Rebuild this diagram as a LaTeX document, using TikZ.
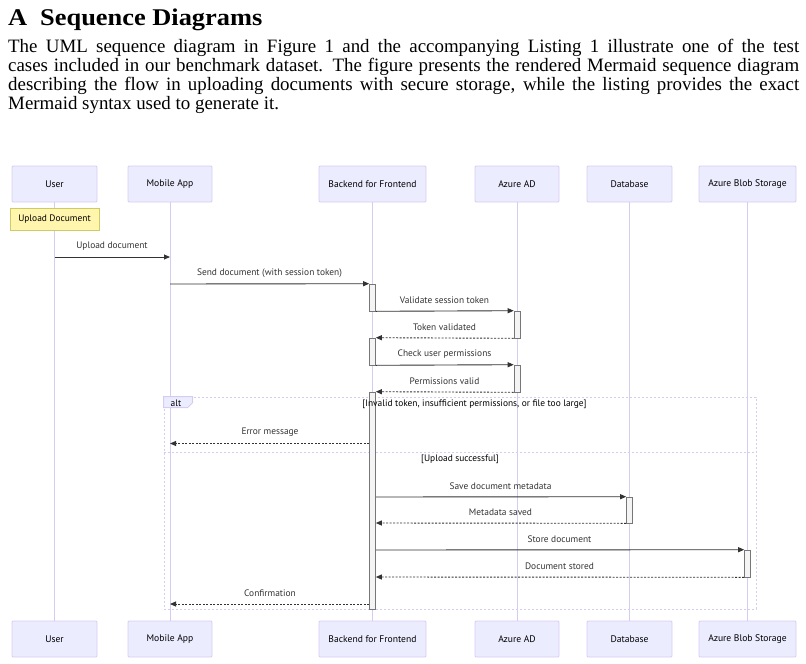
\documentclass[tikz,border=0pt]{standalone}
\usepackage{fontspec}
\setmainfont{Liberation Serif}
\newfontfamily\headfont[FakeStretch=1.1]{Liberation Serif}
\newfontfamily\diag{PT Sans}
\usetikzlibrary{arrows.meta}
\definecolor{actfill}{HTML}{ECECFF}
\definecolor{actline}{HTML}{D6CCF2}
\definecolor{msgcol}{HTML}{333333}
\definecolor{barfill}{HTML}{F4F4F4}
\definecolor{barline}{HTML}{777777}
\definecolor{notefill}{HTML}{FFF5AD}
\definecolor{noteline}{HTML}{CCCC66}
\tikzset{
  dfont/.style={font=\diag\fontsize{9.4}{11}\selectfont},
  actor/.style={font=\diag\fontsize{9.6}{11}\selectfont, draw=actline, fill=actfill, minimum height=36pt, inner sep=0pt, rounded corners=1pt, line width=0.8pt},
  life/.style={draw=actline, line width=0.9pt},
  actbar/.style={draw=barline, fill=barfill, minimum width=6pt, inner sep=0pt, line width=0.6pt},
  msg/.style={draw=msgcol, line width=0.9pt, -{Triangle[length=6pt,width=5pt]}},
  reply/.style={msg, dash pattern=on 2pt off 1.5pt},
  lbl/.style={dfont, text=msgcol, inner sep=0pt},
  altbox/.style={draw=actline, dash pattern=on 2pt off 2pt, line width=0.8pt, inner sep=0pt},
  altlbl/.style={draw=actline, fill=actfill, line width=0.8pt},
  cond/.style={dfont, text=black, inner sep=0pt},
  notebox/.style={dfont, draw=noteline, fill=notefill, line width=0.7pt, inner sep=0pt},
  para/.style={anchor=base west, inner sep=0pt, font=\fontsize{18.9}{19}\selectfont},
  head/.style={anchor=base west, inner sep=0pt, font=\headfont\bfseries\fontsize{24}{28}\selectfont}
}
\begin{document}
\begin{tikzpicture}[x=1pt,y=-1pt]
\useasboundingbox (0,0) rectangle (806,664);
% heading
\node[head] (hA) at (8,25) {A};
\node[head] (hT) at (40,25) {Sequence Diagrams};
% paragraph
\node[para] (p1) at (8,52) {\makebox[791pt][s]{The UML sequence diagram in Figure 1 and the accompanying Listing 1 illustrate one of the test}};
\node[para] (p2) at (8,71) {\makebox[791pt][s]{cases included in our benchmark dataset. The figure presents the rendered Mermaid sequence diagram}};
\node[para] (p3) at (8,90) {\makebox[791pt][s]{describing the flow in uploading documents with secure storage, while the listing provides the exact}};
\node[para] (p4) at (8,109) {Mermaid syntax used to generate it.};
% actors top
\node[actor, minimum width=85pt] (uT) at (54.5,184) {User};
\node[actor, minimum width=84pt] (mT) at (170,184) {Mobile App};
\node[actor, minimum width=107pt] (bT) at (372.5,184) {Backend for Frontend};
\node[actor, minimum width=84pt] (zT) at (517,184) {Azure AD};
\node[actor, minimum width=85pt] (dT) at (629.5,184) {Database};
\node[actor, minimum width=97pt] (sT) at (747.5,184) {Azure Blob Storage};
% actors bottom
\node[actor, minimum width=85pt] (uB) at (54.5,639) {User};
\node[actor, minimum width=84pt] (mB) at (170,639) {Mobile App};
\node[actor, minimum width=107pt] (bB) at (372.5,639) {Backend for Frontend};
\node[actor, minimum width=84pt] (zB) at (517,639) {Azure AD};
\node[actor, minimum width=85pt] (dB) at (629.5,639) {Database};
\node[actor, minimum width=97pt] (sB) at (747.5,639) {Azure Blob Storage};
% lifelines
\draw[life] (uT.south) -- (uB.north);
\draw[life] (mT.south) -- (mB.north);
\draw[life] (bT.south) -- (bB.north);
\draw[life] (zT.south) -- (zB.north);
\draw[life] (dT.south) -- (dB.north);
\draw[life] (sT.south) -- (sB.north);
% note
\node[notebox, minimum width=89pt, minimum height=22pt] (nt) at (54.5,219) {Upload Document};
% alt frame
\node[altbox, minimum width=592pt, minimum height=212pt] (alt) at (460,503) {};
\coordinate (dv) at (0,452);
\draw[altbox] (alt.west |- dv) -- (alt.east |- dv);
\draw[altlbl] (alt.north west) -- ++(29,0) -- ++(0,6) -- ++(-5,5) -- ++(-24,0) -- cycle;
\node[cond] (altT) at (176,403) {alt};
% activation bars
\node[actbar, minimum height=27pt] (a1) at (372.5,297.5) {};
\node[actbar, minimum height=27pt] (a2) at (372.5,351.5) {};
\node[actbar, minimum height=217pt] (a3) at (372.5,500.5) {};
\node[actbar, minimum height=27pt] (z1) at (517,324.5) {};
\node[actbar, minimum height=27pt] (z2) at (517,378.5) {};
\node[actbar, minimum height=26pt] (d1) at (629.5,510) {};
\node[actbar, minimum height=27pt] (s1) at (747.5,563.5) {};
% conditions (on top of bars)
\node[cond] (c1) at (474.5,404) {[Invalid token, insufficient permissions, or file too large]};
\node[cond] (c2) at (460,459.5) {[Upload successful]};
% message rows
\coordinate (y1) at (0,257);
\coordinate (y2) at (0,284);
\coordinate (y7) at (0,443.5);
\coordinate (y8) at (0,497);
\coordinate (y9) at (0,523);
\coordinate (y10) at (0,550);
\coordinate (y11) at (0,577);
\coordinate (y12) at (0,604);
% messages
\draw[msg] (uT |- y1) -- (mT |- y1);
\node[lbl] (l1) at (112,246) {Upload document};
\draw[msg] (mT |- y2) -- (a1.north west);
\node[lbl] (l2) at (269.5,273) {Send document (with session token)};
\draw[msg] (a1.south east) -- (z1.north west);
\node[lbl] (l3) at (444.5,300) {Validate session token};
\draw[reply] (z1.south west) -- (a2.north east);
\node[lbl] (l4) at (444.5,327) {Token validated};
\draw[msg] (a2.south east) -- (z2.north west);
\node[lbl] (l5) at (444.5,354) {Check user permissions};
\draw[reply] (z2.south west) -- (a3.north east);
\node[lbl] (l6) at (444.5,381) {Permissions valid};
\draw[reply] (a3.west |- y7) -- (mT |- y7);
\node[lbl] (l7) at (270,432.5) {Error message};
\draw[msg] (a3.east |- y8) -- (d1.north west);
\node[lbl] (l8) at (500.5,486) {Save document metadata};
\draw[reply] (d1.south west) -- (a3.east |- y9);
\node[lbl] (l9) at (500.5,512) {Metadata saved};
\draw[msg] (a3.east |- y10) -- (s1.north west);
\node[lbl] (l10) at (559.5,539) {Store document};
\draw[reply] (s1.south west) -- (a3.east |- y11);
\node[lbl] (l11) at (559.5,566) {Document stored};
\draw[reply] (a3.west |- y12) -- (mT |- y12);
\node[lbl] (l12) at (270,593) {Confirmation};
\end{tikzpicture}
\end{document}
